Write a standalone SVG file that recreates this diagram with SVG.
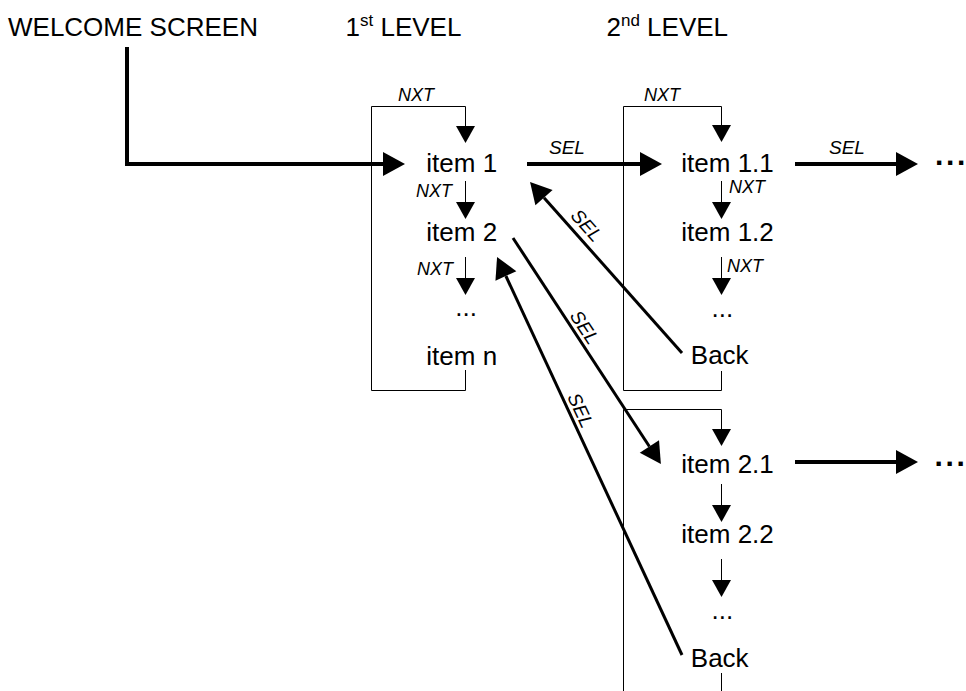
<svg xmlns="http://www.w3.org/2000/svg" width="966" height="691" viewBox="0 0 966 691">
<style>
text{font-family:"Liberation Sans",Arial,Helvetica,sans-serif;fill:#000}
.t{font-size:26px}
.nxt{font-size:18px;font-style:italic}
.sel{font-size:19px;font-style:italic}
.sup{font-size:17px}
.more{font-size:30px;font-weight:bold}
.thin{fill:none;stroke:#000;stroke-width:1}
.thick{fill:none;stroke:#000;stroke-width:4}
.diag{fill:none;stroke:#000;stroke-width:3}
</style>
<defs>
<marker id="ahThin" markerUnits="userSpaceOnUse" markerWidth="17" markerHeight="19" refX="0" refY="9.5" orient="auto" overflow="visible"><path d="M0,0 L17,9.5 L0,19 Z" fill="#000"/></marker>
<marker id="ahThick" markerUnits="userSpaceOnUse" markerWidth="22" markerHeight="24" refX="0" refY="12" orient="auto" overflow="visible"><path d="M0,0 L22,12 L0,24 Z" fill="#000"/></marker>
<marker id="ahDiag" markerUnits="userSpaceOnUse" markerWidth="21" markerHeight="23" refX="0" refY="11.5" orient="auto" overflow="visible"><path d="M0,0 L21,11.5 L0,23 Z" fill="#000"/></marker>
</defs>
<rect width="966" height="691" fill="#fff"/>
<g id="connectors">
<path class="thick" d="M127,47 V164 H383" marker-end="url(#ahThick)"/>
<path class="thin" d="M465.5,370 V390.5 H371.5 V106.5 H465.5 V126" marker-end="url(#ahThin)"/>
<path class="thin" d="M465.5,181 V202" marker-end="url(#ahThin)"/>
<path class="thin" d="M465.5,257 V278" marker-end="url(#ahThin)"/>
<path class="thin" d="M721.5,371 V390.5 H623.5 V106.5 H721.5 V125" marker-end="url(#ahThin)"/>
<path class="thin" d="M721.5,181 V202" marker-end="url(#ahThin)"/>
<path class="thin" d="M721.5,257 V278" marker-end="url(#ahThin)"/>
<path class="thin" d="M623.5,691 V409.5 H721.5 V429" marker-end="url(#ahThin)"/>
<path class="thin" d="M721.5,484 V505" marker-end="url(#ahThin)"/>
<path class="thin" d="M721.5,559 V580" marker-end="url(#ahThin)"/>
<path class="thin" d="M721.5,673 V691"/>
<path class="thick" d="M527,164 H640" marker-end="url(#ahThick)"/>
<path class="thick" d="M795,164 H896" marker-end="url(#ahThick)"/>
<path class="thick" d="M795,462 H896" marker-end="url(#ahThick)"/>
<path class="diag" d="M682,353 L544,197.7" marker-end="url(#ahDiag)"/>
<path class="diag" d="M513,238 L649.4,446.5" marker-end="url(#ahDiag)"/>
<path class="diag" d="M682,655 L505.9,276" marker-end="url(#ahDiag)"/>
<text class="nxt" x="398" y="101">NXT</text>
<text class="nxt" x="416" y="197">NXT</text>
<text class="nxt" x="417" y="275">NXT</text>
<text class="nxt" x="644" y="101">NXT</text>
<text class="nxt" x="729" y="193">NXT</text>
<text class="nxt" x="727" y="272">NXT</text>
<text class="sel" x="549" y="154">SEL</text>
<text class="sel" x="829" y="154">SEL</text>
<text class="sel" text-anchor="middle" transform="translate(587,225) rotate(48.4)" y="7">SEL</text>
<text class="sel" text-anchor="middle" transform="translate(585,327) rotate(56.7)" y="7">SEL</text>
<text class="sel" text-anchor="middle" transform="translate(581,410) rotate(65)" y="7">SEL</text>
</g>
<g id="welcome"><text class="t" x="8" y="36">WELCOME SCREEN</text></g>
<g id="level1"><text class="t" x="345.5" y="36">1<tspan class="sup" dy="-10">st</tspan><tspan dy="10"> LEVEL</tspan></text></g>
<g id="level2"><text class="t" x="606.5" y="36">2<tspan class="sup" dy="-10">nd</tspan><tspan dy="10"> LEVEL</tspan></text></g>
<g id="item1"><text class="t" x="426.3" y="172">item 1</text></g>
<g id="item2"><text class="t" x="426.3" y="241">item 2</text></g>
<g id="dots1"><text class="t" x="455.3" y="316">...</text></g>
<g id="itemn"><text class="t" x="426.3" y="365">item n</text></g>
<g id="item11"><text class="t" x="681.3" y="172">item 1.1</text></g>
<g id="item12"><text class="t" x="681.3" y="241">item 1.2</text></g>
<g id="dots11"><text class="t" x="711.6" y="317">...</text></g>
<g id="back1"><text class="t" x="690.8" y="364">Back</text></g>
<g id="item21"><text class="t" x="681.3" y="473">item 2.1</text></g>
<g id="item22"><text class="t" x="681.3" y="543">item 2.2</text></g>
<g id="dots21"><text class="t" x="711.6" y="619">...</text></g>
<g id="back2"><text class="t" x="690.8" y="667">Back</text></g>
<g id="more1"><text class="more" x="935 946 957" y="165">...</text></g>
<g id="more2"><text class="more" x="934.5 945.5 956.5" y="466">...</text></g>
</svg>
